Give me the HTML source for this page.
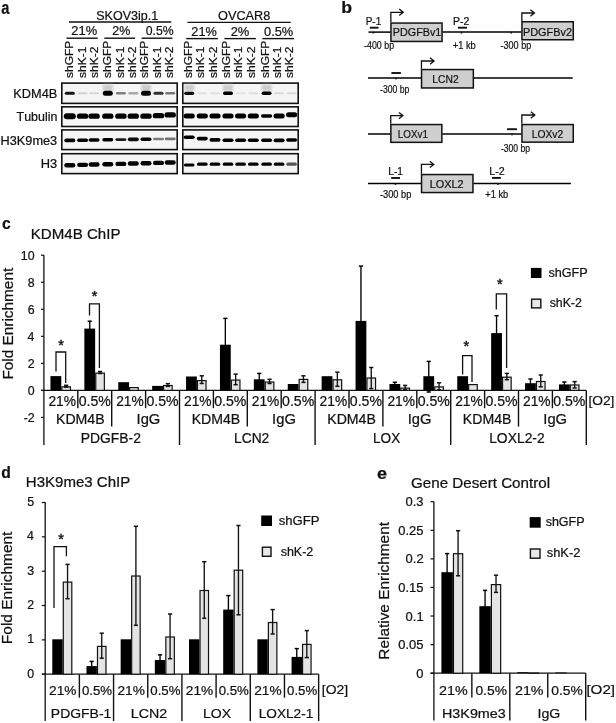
<!DOCTYPE html>
<html><head><meta charset="utf-8"><title>Figure</title>
<style>
html,body{margin:0;padding:0;background:#fff;}
svg{display:block;}
text{font-family:"Liberation Sans",Arial,sans-serif;font-kerning:none;stroke:#111;stroke-width:0.22px;}
</style></head><body>
<svg width="616" height="723" viewBox="0 0 616 723">
<defs>
<filter id="bl" x="-20%" y="-50%" width="140%" height="200%"><feGaussianBlur stdDeviation="0.7"/></filter>
<filter id="bl2" x="-20%" y="-50%" width="140%" height="200%"><feGaussianBlur stdDeviation="1.2"/></filter>
</defs>
<rect width="616" height="723" fill="#fff"/>
<text x="1.17" y="13.50" font-size="17.5" textLength="8.14" lengthAdjust="spacingAndGlyphs" fill="#111" font-weight="bold">a</text>
<text x="96.23" y="19.50" font-size="12.5" textLength="61.98" lengthAdjust="spacingAndGlyphs" fill="#111">SKOV3ip.1</text>
<text x="218.10" y="19.50" font-size="12.5" textLength="52.15" lengthAdjust="spacingAndGlyphs" fill="#111">OVCAR8</text>
<line x1="69.00" y1="22.00" x2="171.20" y2="22.00" stroke="#111" stroke-width="1.4"/>
<line x1="187.40" y1="22.40" x2="290.70" y2="22.40" stroke="#111" stroke-width="1.4"/>
<text x="71.35" y="35.30" font-size="13" textLength="25.81" lengthAdjust="spacingAndGlyphs" fill="#111">21%</text>
<text x="112.37" y="35.30" font-size="13" textLength="18.07" lengthAdjust="spacingAndGlyphs" fill="#111">2%</text>
<text x="145.82" y="35.30" font-size="13" textLength="27.91" lengthAdjust="spacingAndGlyphs" fill="#111">0.5%</text>
<text x="191.36" y="35.70" font-size="13" textLength="25.39" lengthAdjust="spacingAndGlyphs" fill="#111">21%</text>
<text x="230.65" y="35.70" font-size="13" textLength="18.71" lengthAdjust="spacingAndGlyphs" fill="#111">2%</text>
<text x="264.00" y="35.70" font-size="13" textLength="29.26" lengthAdjust="spacingAndGlyphs" fill="#111">0.5%</text>
<line x1="66.50" y1="38.20" x2="97.70" y2="38.20" stroke="#111" stroke-width="1.4"/>
<line x1="104.30" y1="38.20" x2="135.10" y2="38.20" stroke="#111" stroke-width="1.4"/>
<line x1="141.60" y1="38.20" x2="172.50" y2="38.20" stroke="#111" stroke-width="1.4"/>
<line x1="186.20" y1="38.60" x2="218.00" y2="38.60" stroke="#111" stroke-width="1.4"/>
<line x1="224.40" y1="38.60" x2="256.00" y2="38.60" stroke="#111" stroke-width="1.4"/>
<line x1="262.30" y1="38.60" x2="294.00" y2="38.60" stroke="#111" stroke-width="1.4"/>
<text transform="translate(73.25,77.70) rotate(-90)" x="-0.33" y="0" font-size="11" textLength="37.37" lengthAdjust="spacingAndGlyphs" fill="#111">shGFP</text>
<text transform="translate(85.55,77.70) rotate(-90)" x="-0.33" y="0" font-size="11" textLength="31.37" lengthAdjust="spacingAndGlyphs" fill="#111">shK-1</text>
<text transform="translate(97.55,77.70) rotate(-90)" x="-0.33" y="0" font-size="11" textLength="31.37" lengthAdjust="spacingAndGlyphs" fill="#111">shK-2</text>
<text transform="translate(110.55,77.70) rotate(-90)" x="-0.33" y="0" font-size="11" textLength="37.37" lengthAdjust="spacingAndGlyphs" fill="#111">shGFP</text>
<text transform="translate(123.95,77.70) rotate(-90)" x="-0.33" y="0" font-size="11" textLength="31.37" lengthAdjust="spacingAndGlyphs" fill="#111">shK-1</text>
<text transform="translate(135.55,77.70) rotate(-90)" x="-0.33" y="0" font-size="11" textLength="31.37" lengthAdjust="spacingAndGlyphs" fill="#111">shK-2</text>
<text transform="translate(148.45,77.70) rotate(-90)" x="-0.33" y="0" font-size="11" textLength="37.37" lengthAdjust="spacingAndGlyphs" fill="#111">shGFP</text>
<text transform="translate(161.05,77.70) rotate(-90)" x="-0.33" y="0" font-size="11" textLength="31.37" lengthAdjust="spacingAndGlyphs" fill="#111">shK-1</text>
<text transform="translate(173.25,77.70) rotate(-90)" x="-0.33" y="0" font-size="11" textLength="31.37" lengthAdjust="spacingAndGlyphs" fill="#111">shK-2</text>
<text transform="translate(192.25,77.70) rotate(-90)" x="-0.33" y="0" font-size="11" textLength="37.37" lengthAdjust="spacingAndGlyphs" fill="#111">shGFP</text>
<text transform="translate(204.25,77.70) rotate(-90)" x="-0.33" y="0" font-size="11" textLength="31.37" lengthAdjust="spacingAndGlyphs" fill="#111">shK-1</text>
<text transform="translate(217.25,77.70) rotate(-90)" x="-0.33" y="0" font-size="11" textLength="31.37" lengthAdjust="spacingAndGlyphs" fill="#111">shK-2</text>
<text transform="translate(230.25,77.70) rotate(-90)" x="-0.33" y="0" font-size="11" textLength="37.37" lengthAdjust="spacingAndGlyphs" fill="#111">shGFP</text>
<text transform="translate(242.25,77.70) rotate(-90)" x="-0.33" y="0" font-size="11" textLength="31.37" lengthAdjust="spacingAndGlyphs" fill="#111">shK-1</text>
<text transform="translate(255.25,77.70) rotate(-90)" x="-0.33" y="0" font-size="11" textLength="31.37" lengthAdjust="spacingAndGlyphs" fill="#111">shK-2</text>
<text transform="translate(269.25,77.70) rotate(-90)" x="-0.33" y="0" font-size="11" textLength="37.37" lengthAdjust="spacingAndGlyphs" fill="#111">shGFP</text>
<text transform="translate(281.25,77.70) rotate(-90)" x="-0.33" y="0" font-size="11" textLength="31.37" lengthAdjust="spacingAndGlyphs" fill="#111">shK-1</text>
<text transform="translate(293.25,77.70) rotate(-90)" x="-0.33" y="0" font-size="11" textLength="31.37" lengthAdjust="spacingAndGlyphs" fill="#111">shK-2</text>
<text x="13.25" y="98.20" font-size="12" textLength="44.02" lengthAdjust="spacingAndGlyphs" fill="#111">KDM4B</text>
<text x="16.62" y="120.70" font-size="12" textLength="40.79" lengthAdjust="spacingAndGlyphs" fill="#111">Tubulin</text>
<text x="0.56" y="144.50" font-size="12" textLength="56.60" lengthAdjust="spacingAndGlyphs" fill="#111">H3K9me3</text>
<text x="40.85" y="167.90" font-size="12" textLength="16.42" lengthAdjust="spacingAndGlyphs" fill="#111">H3</text>
<rect x="61.80" y="83.10" width="115.40" height="20.30" fill="#f5f5f5" stroke="#111" stroke-width="1.6"/>
<rect x="182.80" y="83.10" width="115.40" height="20.30" fill="#f5f5f5" stroke="#111" stroke-width="1.6"/>
<rect x="61.80" y="106.80" width="115.40" height="19.70" fill="#f5f5f5" stroke="#111" stroke-width="1.6"/>
<rect x="182.80" y="106.80" width="115.40" height="19.70" fill="#f5f5f5" stroke="#111" stroke-width="1.6"/>
<rect x="61.80" y="129.90" width="115.40" height="19.70" fill="#f5f5f5" stroke="#111" stroke-width="1.6"/>
<rect x="182.80" y="129.90" width="115.40" height="19.70" fill="#f5f5f5" stroke="#111" stroke-width="1.6"/>
<rect x="61.80" y="153.70" width="115.40" height="19.90" fill="#f5f5f5" stroke="#111" stroke-width="1.6"/>
<rect x="182.80" y="153.70" width="115.40" height="19.90" fill="#f5f5f5" stroke="#111" stroke-width="1.6"/>
<g filter="url(#bl2)">
<rect x="102.80" y="84.55" width="10" height="6.5" fill="#cdcdcd"/>
<rect x="141.00" y="84.55" width="10" height="6.5" fill="#cdcdcd"/>
<rect x="184.20" y="84.55" width="10" height="6.5" fill="#cdcdcd"/>
<rect x="223.00" y="84.55" width="10" height="6.5" fill="#cdcdcd"/>
<rect x="261.60" y="84.55" width="10" height="6.5" fill="#cdcdcd"/>
</g><g filter="url(#bl)">
<rect x="64.80" y="91.80" width="10.00" height="3.00" rx="1.50" fill="#151515"/>
<rect x="77.60" y="92.30" width="10.00" height="2.00" rx="1.00" fill="#d4d4d4"/>
<rect x="89.10" y="92.30" width="10.00" height="2.00" rx="1.00" fill="#d8d8d8"/>
<rect x="102.80" y="90.80" width="10.00" height="5.00" rx="2.50" fill="#000"/>
<rect x="115.90" y="92.00" width="10.00" height="2.60" rx="1.30" fill="#808080"/>
<rect x="128.30" y="92.10" width="10.00" height="2.40" rx="1.20" fill="#a8a8a8"/>
<rect x="141.00" y="90.80" width="10.00" height="5.00" rx="2.50" fill="#000"/>
<rect x="153.50" y="91.80" width="10.00" height="3.00" rx="1.50" fill="#303030"/>
<rect x="165.20" y="92.00" width="10.00" height="2.60" rx="1.30" fill="#777"/>
<rect x="184.20" y="91.70" width="10.00" height="3.20" rx="1.60" fill="#111"/>
<rect x="197.30" y="92.30" width="10.00" height="2.00" rx="1.00" fill="#e2e2e2"/>
<rect x="210.00" y="92.30" width="10.00" height="2.00" rx="1.00" fill="#e0e0e0"/>
<rect x="223.00" y="91.60" width="10.00" height="3.40" rx="1.70" fill="#000"/>
<rect x="235.60" y="92.30" width="10.00" height="2.00" rx="1.00" fill="#e4e4e4"/>
<rect x="248.30" y="92.30" width="10.00" height="2.00" rx="1.00" fill="#e0e0e0"/>
<rect x="261.60" y="91.50" width="10.00" height="3.60" rx="1.80" fill="#000"/>
<rect x="274.10" y="92.30" width="10.00" height="2.00" rx="1.00" fill="#d8d8d8"/>
<rect x="286.60" y="92.30" width="10.00" height="2.00" rx="1.00" fill="#dadada"/>
<rect x="63.80" y="113.20" width="12.00" height="6.00" rx="3.00" fill="#000"/>
<rect x="76.90" y="113.60" width="11.40" height="5.20" rx="2.60" fill="#000"/>
<rect x="88.40" y="113.60" width="11.40" height="5.20" rx="2.60" fill="#000"/>
<rect x="102.10" y="113.60" width="11.40" height="5.20" rx="2.60" fill="#000"/>
<rect x="115.20" y="113.60" width="11.40" height="5.20" rx="2.60" fill="#000"/>
<rect x="127.60" y="113.60" width="11.40" height="5.20" rx="2.60" fill="#000"/>
<rect x="140.30" y="113.60" width="11.40" height="5.20" rx="2.60" fill="#000"/>
<rect x="152.80" y="113.10" width="11.40" height="5.20" rx="2.60" fill="#000"/>
<rect x="164.50" y="112.30" width="11.40" height="5.20" rx="2.60" fill="#000"/>
<rect x="183.60" y="113.50" width="11.20" height="5.00" rx="2.50" fill="#000"/>
<rect x="196.70" y="113.50" width="11.20" height="5.00" rx="2.50" fill="#000"/>
<rect x="209.40" y="113.50" width="11.20" height="5.00" rx="2.50" fill="#000"/>
<rect x="222.40" y="113.50" width="11.20" height="5.00" rx="2.50" fill="#000"/>
<rect x="235.00" y="113.50" width="11.20" height="5.00" rx="2.50" fill="#000"/>
<rect x="247.70" y="113.50" width="11.20" height="5.00" rx="2.50" fill="#000"/>
<rect x="261.00" y="114.20" width="11.20" height="3.60" rx="1.80" fill="#000"/>
<rect x="273.50" y="113.50" width="11.20" height="5.00" rx="2.50" fill="#000"/>
<rect x="286.00" y="112.30" width="11.20" height="5.00" rx="2.50" fill="#000"/>
<rect x="64.30" y="138.60" width="11.00" height="3.60" rx="1.80" fill="#000"/>
<rect x="77.10" y="138.40" width="11.00" height="3.60" rx="1.80" fill="#000"/>
<rect x="88.60" y="138.20" width="11.00" height="3.60" rx="1.80" fill="#000"/>
<rect x="102.30" y="138.00" width="11.00" height="3.60" rx="1.80" fill="#050505"/>
<rect x="115.40" y="138.15" width="11.00" height="2.90" rx="1.45" fill="#1c1c1c"/>
<rect x="127.80" y="137.60" width="11.00" height="3.60" rx="1.80" fill="#0a0a0a"/>
<rect x="140.50" y="137.40" width="11.00" height="3.60" rx="1.80" fill="#000"/>
<rect x="153.00" y="137.65" width="11.00" height="2.70" rx="1.35" fill="#7a7a7a"/>
<rect x="164.70" y="137.45" width="11.00" height="2.70" rx="1.35" fill="#707070"/>
<rect x="183.70" y="135.40" width="11.00" height="3.60" rx="1.80" fill="#000"/>
<rect x="196.80" y="136.80" width="11.00" height="3.60" rx="1.80" fill="#000"/>
<rect x="209.50" y="138.10" width="11.00" height="3.60" rx="1.80" fill="#000"/>
<rect x="222.50" y="138.40" width="11.00" height="3.60" rx="1.80" fill="#000"/>
<rect x="235.10" y="138.40" width="11.00" height="3.60" rx="1.80" fill="#000"/>
<rect x="247.80" y="138.50" width="11.00" height="3.60" rx="1.80" fill="#000"/>
<rect x="261.10" y="138.50" width="11.00" height="3.60" rx="1.80" fill="#000"/>
<rect x="273.60" y="138.60" width="11.00" height="3.60" rx="1.80" fill="#000"/>
<rect x="286.10" y="138.20" width="11.00" height="3.60" rx="1.80" fill="#000"/>
<rect x="64.30" y="163.00" width="11.00" height="4.40" rx="2.20" fill="#000"/>
<rect x="77.10" y="162.67" width="11.00" height="4.40" rx="2.20" fill="#000"/>
<rect x="88.60" y="162.34" width="11.00" height="4.40" rx="2.20" fill="#000"/>
<rect x="102.30" y="162.01" width="11.00" height="4.40" rx="2.20" fill="#000"/>
<rect x="115.40" y="161.68" width="11.00" height="4.40" rx="2.20" fill="#000"/>
<rect x="127.80" y="161.35" width="11.00" height="4.40" rx="2.20" fill="#000"/>
<rect x="140.50" y="161.02" width="11.00" height="4.40" rx="2.20" fill="#000"/>
<rect x="153.00" y="160.69" width="11.00" height="4.40" rx="2.20" fill="#000"/>
<rect x="164.70" y="160.36" width="11.00" height="4.40" rx="2.20" fill="#000"/>
<rect x="183.90" y="163.40" width="10.60" height="3.20" rx="1.60" fill="#000"/>
<rect x="197.00" y="162.60" width="10.60" height="3.20" rx="1.60" fill="#000"/>
<rect x="209.70" y="162.60" width="10.60" height="3.20" rx="1.60" fill="#000"/>
<rect x="222.70" y="162.60" width="10.60" height="3.20" rx="1.60" fill="#000"/>
<rect x="235.30" y="162.60" width="10.60" height="3.20" rx="1.60" fill="#000"/>
<rect x="248.00" y="162.60" width="10.60" height="3.20" rx="1.60" fill="#000"/>
<rect x="261.30" y="162.60" width="10.60" height="3.20" rx="1.60" fill="#000"/>
<rect x="273.80" y="162.60" width="10.60" height="3.20" rx="1.60" fill="#000"/>
<rect x="286.30" y="162.60" width="10.60" height="3.20" rx="1.60" fill="#555"/>
</g>
<text x="341.24" y="13.00" font-size="16" textLength="10.79" lengthAdjust="spacingAndGlyphs" fill="#111" font-weight="bold">b</text>
<line x1="368.50" y1="32.10" x2="390.50" y2="32.10" stroke="#000" stroke-width="1.5"/>
<line x1="442.50" y1="32.10" x2="521.50" y2="32.10" stroke="#000" stroke-width="1.5"/>
<rect x="390.95" y="23.05" width="51.10" height="18.40" fill="#cfcfcf" stroke="#111" stroke-width="1.5"/>
<text x="392.82" y="35.70" font-size="11.6" textLength="48.51" lengthAdjust="spacingAndGlyphs" fill="#111">PDGFBv1</text>
<path d="M390.85,22.30 V12.30 H403.20 M399.20,9.10 L403.20,12.30 L399.20,15.50" fill="none" stroke="#111" stroke-width="1.3"/>
<rect x="521.95" y="21.75" width="51.30" height="18.00" fill="#cfcfcf" stroke="#111" stroke-width="1.5"/>
<text x="523.01" y="35.70" font-size="11.6" textLength="48.94" lengthAdjust="spacingAndGlyphs" fill="#111">PDGFBv2</text>
<path d="M521.85,21.00 V13.00 H534.40 M530.40,9.80 L534.40,13.00 L530.40,16.20" fill="none" stroke="#111" stroke-width="1.3"/>
<line x1="369.80" y1="27.70" x2="378.50" y2="27.70" stroke="#111" stroke-width="1.9"/>
<line x1="457.90" y1="27.70" x2="467.00" y2="27.70" stroke="#111" stroke-width="1.9"/>
<circle cx="373.30" cy="32.70" r="0.9" fill="#111"/>
<circle cx="461.40" cy="32.70" r="0.9" fill="#111"/>
<circle cx="511.20" cy="32.70" r="0.9" fill="#111"/>
<text x="365.68" y="25.00" font-size="10.5" textLength="15.61" lengthAdjust="spacingAndGlyphs" fill="#111">P-1</text>
<text x="453.04" y="25.00" font-size="10.5" textLength="16.39" lengthAdjust="spacingAndGlyphs" fill="#111">P-2</text>
<text x="364.11" y="48.70" font-size="10.5" textLength="29.96" lengthAdjust="spacingAndGlyphs" fill="#111">-400 bp</text>
<text x="452.85" y="48.70" font-size="10.5" textLength="22.94" lengthAdjust="spacingAndGlyphs" fill="#111">+1 kb</text>
<text x="500.50" y="48.70" font-size="10.5" textLength="30.78" lengthAdjust="spacingAndGlyphs" fill="#111">-300 bp</text>
<line x1="368.00" y1="78.00" x2="421.00" y2="78.00" stroke="#000" stroke-width="1.5"/>
<line x1="473.50" y1="78.00" x2="572.70" y2="78.00" stroke="#000" stroke-width="1.5"/>
<rect x="421.55" y="69.55" width="51.80" height="18.40" fill="#cfcfcf" stroke="#111" stroke-width="1.5"/>
<text x="432.35" y="82.50" font-size="11.6" textLength="26.36" lengthAdjust="spacingAndGlyphs" fill="#111">LCN2</text>
<path d="M421.45,68.80 V61.00 H434.00 M430.00,57.80 L434.00,61.00 L430.00,64.20" fill="none" stroke="#111" stroke-width="1.3"/>
<line x1="391.40" y1="73.00" x2="400.90" y2="73.00" stroke="#111" stroke-width="1.9"/>
<circle cx="396.00" cy="78.60" r="0.9" fill="#111"/>
<text x="380.01" y="93.10" font-size="10.5" textLength="29.45" lengthAdjust="spacingAndGlyphs" fill="#111">-300 bp</text>
<line x1="368.00" y1="134.00" x2="390.50" y2="134.00" stroke="#000" stroke-width="1.5"/>
<line x1="442.30" y1="134.00" x2="521.50" y2="134.00" stroke="#000" stroke-width="1.5"/>
<rect x="390.85" y="124.55" width="51.00" height="17.80" fill="#cfcfcf" stroke="#111" stroke-width="1.5"/>
<text x="397.79" y="137.70" font-size="11.6" textLength="30.19" lengthAdjust="spacingAndGlyphs" fill="#111">LOXv1</text>
<path d="M390.75,123.80 V115.60 H402.90 M398.90,112.40 L402.90,115.60 L398.90,118.80" fill="none" stroke="#111" stroke-width="1.3"/>
<rect x="521.95" y="124.55" width="51.30" height="17.60" fill="#cfcfcf" stroke="#111" stroke-width="1.5"/>
<text x="531.65" y="137.70" font-size="11.6" textLength="31.57" lengthAdjust="spacingAndGlyphs" fill="#111">LOXv2</text>
<path d="M521.85,123.80 V115.00 H534.80 M530.80,111.80 L534.80,115.00 L530.80,118.20" fill="none" stroke="#111" stroke-width="1.3"/>
<line x1="507.10" y1="129.20" x2="516.90" y2="129.20" stroke="#111" stroke-width="1.9"/>
<circle cx="512.00" cy="134.60" r="0.9" fill="#111"/>
<text x="500.92" y="152.00" font-size="10.5" textLength="29.14" lengthAdjust="spacingAndGlyphs" fill="#111">-300 bp</text>
<line x1="368.00" y1="183.40" x2="421.00" y2="183.40" stroke="#000" stroke-width="1.5"/>
<line x1="473.30" y1="183.40" x2="570.90" y2="183.40" stroke="#000" stroke-width="1.5"/>
<rect x="421.55" y="174.55" width="51.40" height="18.00" fill="#cfcfcf" stroke="#111" stroke-width="1.5"/>
<text x="429.71" y="187.50" font-size="11.6" textLength="33.84" lengthAdjust="spacingAndGlyphs" fill="#111">LOXL2</text>
<path d="M421.45,173.80 V164.40 H433.80 M429.80,161.20 L433.80,164.40 L429.80,167.60" fill="none" stroke="#111" stroke-width="1.3"/>
<line x1="391.20" y1="178.00" x2="400.00" y2="178.00" stroke="#111" stroke-width="1.9"/>
<line x1="491.90" y1="177.90" x2="500.80" y2="177.90" stroke="#111" stroke-width="1.9"/>
<circle cx="395.50" cy="184.00" r="0.9" fill="#111"/>
<circle cx="497.90" cy="184.00" r="0.9" fill="#111"/>
<text x="388.26" y="175.00" font-size="10.5" textLength="14.84" lengthAdjust="spacingAndGlyphs" fill="#111">L-1</text>
<text x="489.23" y="175.00" font-size="10.5" textLength="15.41" lengthAdjust="spacingAndGlyphs" fill="#111">L-2</text>
<text x="379.99" y="197.70" font-size="10.5" textLength="31.40" lengthAdjust="spacingAndGlyphs" fill="#111">-300 bp</text>
<text x="485.25" y="197.70" font-size="10.5" textLength="22.94" lengthAdjust="spacingAndGlyphs" fill="#111">+1 kb</text>
<text x="2.09" y="228.90" font-size="16.5" textLength="8.67" lengthAdjust="spacingAndGlyphs" fill="#111" font-weight="bold">c</text>
<text x="30.76" y="238.90" font-size="14.7" textLength="89.73" lengthAdjust="spacingAndGlyphs" fill="#111">KDM4B ChIP</text>
<line x1="41.00" y1="255.20" x2="43.90" y2="255.20" stroke="#111" stroke-width="1.2"/>
<text x="20.83" y="259.50" font-size="12" textLength="13.75" lengthAdjust="spacingAndGlyphs" fill="#111">10</text>
<line x1="41.00" y1="282.24" x2="43.90" y2="282.24" stroke="#111" stroke-width="1.2"/>
<text x="27.76" y="286.54" font-size="12" textLength="6.87" lengthAdjust="spacingAndGlyphs" fill="#111">8</text>
<line x1="41.00" y1="309.28" x2="43.90" y2="309.28" stroke="#111" stroke-width="1.2"/>
<text x="27.77" y="313.58" font-size="12" textLength="6.87" lengthAdjust="spacingAndGlyphs" fill="#111">6</text>
<line x1="41.00" y1="336.32" x2="43.90" y2="336.32" stroke="#111" stroke-width="1.2"/>
<text x="27.59" y="340.62" font-size="12" textLength="6.87" lengthAdjust="spacingAndGlyphs" fill="#111">4</text>
<line x1="41.00" y1="363.36" x2="43.90" y2="363.36" stroke="#111" stroke-width="1.2"/>
<text x="27.85" y="367.66" font-size="12" textLength="6.87" lengthAdjust="spacingAndGlyphs" fill="#111">2</text>
<line x1="41.00" y1="390.40" x2="43.90" y2="390.40" stroke="#111" stroke-width="1.2"/>
<text x="27.71" y="394.70" font-size="12" textLength="6.87" lengthAdjust="spacingAndGlyphs" fill="#111">0</text>
<line x1="41.00" y1="417.44" x2="43.90" y2="417.44" stroke="#111" stroke-width="1.2"/>
<text x="23.73" y="421.74" font-size="12" textLength="10.99" lengthAdjust="spacingAndGlyphs" fill="#111">-2</text>
<line x1="43.90" y1="255.00" x2="43.90" y2="445.00" stroke="#111" stroke-width="1.3"/>
<line x1="41.00" y1="390.40" x2="586.30" y2="390.40" stroke="#111" stroke-width="1.3"/>
<text transform="translate(12.90,378.30) rotate(-90)" x="-1.26" y="0" font-size="15" textLength="111.77" lengthAdjust="spacingAndGlyphs" fill="#111">Fold Enrichment</text>
<rect x="50.45" y="376.10" width="10.80" height="14.30" fill="#000"/>
<rect x="61.85" y="386.85" width="8.60" height="3.55" fill="#e4e4e4" stroke="#111" stroke-width="1.2"/>
<line x1="66.15" y1="385.30" x2="66.15" y2="387.20" stroke="#111" stroke-width="1.35"/>
<line x1="64.05" y1="385.30" x2="68.25" y2="385.30" stroke="#111" stroke-width="1.4850000000000003"/>
<line x1="64.05" y1="387.20" x2="68.25" y2="387.20" stroke="#111" stroke-width="1.4850000000000003"/>
<rect x="84.35" y="328.60" width="10.80" height="61.80" fill="#000"/>
<rect x="95.75" y="373.10" width="8.60" height="17.30" fill="#e4e4e4" stroke="#111" stroke-width="1.2"/>
<line x1="89.75" y1="321.20" x2="89.75" y2="336.00" stroke="#000" stroke-width="1.35"/>
<line x1="87.65" y1="321.20" x2="91.85" y2="321.20" stroke="#000" stroke-width="1.4850000000000003"/>
<line x1="87.65" y1="336.00" x2="91.85" y2="336.00" stroke="#000" stroke-width="1.4850000000000003"/>
<line x1="100.05" y1="371.50" x2="100.05" y2="373.50" stroke="#111" stroke-width="1.35"/>
<line x1="97.95" y1="371.50" x2="102.15" y2="371.50" stroke="#111" stroke-width="1.4850000000000003"/>
<line x1="97.95" y1="373.50" x2="102.15" y2="373.50" stroke="#111" stroke-width="1.4850000000000003"/>
<rect x="118.25" y="382.20" width="10.80" height="8.20" fill="#000"/>
<rect x="129.65" y="387.60" width="8.60" height="2.80" fill="#e4e4e4" stroke="#111" stroke-width="1.2"/>
<rect x="152.15" y="385.90" width="10.80" height="4.50" fill="#000"/>
<rect x="163.55" y="385.50" width="8.60" height="4.90" fill="#e4e4e4" stroke="#111" stroke-width="1.2"/>
<line x1="167.85" y1="383.60" x2="167.85" y2="386.40" stroke="#111" stroke-width="1.35"/>
<line x1="165.75" y1="383.60" x2="169.95" y2="383.60" stroke="#111" stroke-width="1.4850000000000003"/>
<line x1="165.75" y1="386.40" x2="169.95" y2="386.40" stroke="#111" stroke-width="1.4850000000000003"/>
<rect x="186.05" y="376.50" width="10.80" height="13.90" fill="#000"/>
<rect x="197.45" y="380.60" width="8.60" height="9.80" fill="#e4e4e4" stroke="#111" stroke-width="1.2"/>
<line x1="201.75" y1="375.80" x2="201.75" y2="383.50" stroke="#111" stroke-width="1.35"/>
<line x1="199.65" y1="375.80" x2="203.85" y2="375.80" stroke="#111" stroke-width="1.4850000000000003"/>
<line x1="199.65" y1="383.50" x2="203.85" y2="383.50" stroke="#111" stroke-width="1.4850000000000003"/>
<rect x="219.95" y="344.70" width="10.80" height="45.70" fill="#000"/>
<rect x="231.35" y="380.10" width="8.60" height="10.30" fill="#e4e4e4" stroke="#111" stroke-width="1.2"/>
<line x1="225.35" y1="318.40" x2="225.35" y2="350.00" stroke="#000" stroke-width="1.35"/>
<line x1="223.25" y1="318.40" x2="227.45" y2="318.40" stroke="#000" stroke-width="1.4850000000000003"/>
<line x1="223.25" y1="350.00" x2="227.45" y2="350.00" stroke="#000" stroke-width="1.4850000000000003"/>
<line x1="235.65" y1="374.10" x2="235.65" y2="384.70" stroke="#111" stroke-width="1.35"/>
<line x1="233.55" y1="374.10" x2="237.75" y2="374.10" stroke="#111" stroke-width="1.4850000000000003"/>
<line x1="233.55" y1="384.70" x2="237.75" y2="384.70" stroke="#111" stroke-width="1.4850000000000003"/>
<rect x="253.85" y="379.30" width="10.80" height="11.10" fill="#000"/>
<rect x="265.25" y="382.00" width="8.60" height="8.40" fill="#e4e4e4" stroke="#111" stroke-width="1.2"/>
<line x1="259.25" y1="373.40" x2="259.25" y2="385.00" stroke="#000" stroke-width="1.35"/>
<line x1="257.15" y1="373.40" x2="261.35" y2="373.40" stroke="#000" stroke-width="1.4850000000000003"/>
<line x1="257.15" y1="385.00" x2="261.35" y2="385.00" stroke="#000" stroke-width="1.4850000000000003"/>
<line x1="269.55" y1="379.30" x2="269.55" y2="383.50" stroke="#111" stroke-width="1.35"/>
<line x1="267.45" y1="379.30" x2="271.65" y2="379.30" stroke="#111" stroke-width="1.4850000000000003"/>
<line x1="267.45" y1="383.50" x2="271.65" y2="383.50" stroke="#111" stroke-width="1.4850000000000003"/>
<rect x="287.75" y="384.00" width="10.80" height="6.40" fill="#000"/>
<rect x="299.15" y="379.40" width="8.60" height="11.00" fill="#e4e4e4" stroke="#111" stroke-width="1.2"/>
<line x1="303.45" y1="375.80" x2="303.45" y2="382.40" stroke="#111" stroke-width="1.35"/>
<line x1="301.35" y1="375.80" x2="305.55" y2="375.80" stroke="#111" stroke-width="1.4850000000000003"/>
<line x1="301.35" y1="382.40" x2="305.55" y2="382.40" stroke="#111" stroke-width="1.4850000000000003"/>
<rect x="321.65" y="376.20" width="10.80" height="14.20" fill="#000"/>
<rect x="333.05" y="379.80" width="8.60" height="10.60" fill="#e4e4e4" stroke="#111" stroke-width="1.2"/>
<line x1="337.35" y1="372.20" x2="337.35" y2="386.30" stroke="#111" stroke-width="1.35"/>
<line x1="335.25" y1="372.20" x2="339.45" y2="372.20" stroke="#111" stroke-width="1.4850000000000003"/>
<line x1="335.25" y1="386.30" x2="339.45" y2="386.30" stroke="#111" stroke-width="1.4850000000000003"/>
<rect x="355.55" y="320.90" width="10.80" height="69.50" fill="#000"/>
<rect x="366.95" y="378.00" width="8.60" height="12.40" fill="#e4e4e4" stroke="#111" stroke-width="1.2"/>
<line x1="360.95" y1="266.10" x2="360.95" y2="330.00" stroke="#000" stroke-width="1.35"/>
<line x1="358.85" y1="266.10" x2="363.05" y2="266.10" stroke="#000" stroke-width="1.4850000000000003"/>
<line x1="358.85" y1="330.00" x2="363.05" y2="330.00" stroke="#000" stroke-width="1.4850000000000003"/>
<line x1="371.25" y1="367.50" x2="371.25" y2="388.60" stroke="#111" stroke-width="1.35"/>
<line x1="369.15" y1="367.50" x2="373.35" y2="367.50" stroke="#111" stroke-width="1.4850000000000003"/>
<line x1="369.15" y1="388.60" x2="373.35" y2="388.60" stroke="#111" stroke-width="1.4850000000000003"/>
<rect x="389.45" y="384.00" width="10.80" height="6.40" fill="#000"/>
<rect x="400.85" y="388.10" width="8.60" height="2.30" fill="#e4e4e4" stroke="#111" stroke-width="1.2"/>
<line x1="394.85" y1="382.30" x2="394.85" y2="386.00" stroke="#000" stroke-width="1.35"/>
<line x1="392.75" y1="382.30" x2="396.95" y2="382.30" stroke="#000" stroke-width="1.4850000000000003"/>
<line x1="392.75" y1="386.00" x2="396.95" y2="386.00" stroke="#000" stroke-width="1.4850000000000003"/>
<line x1="405.15" y1="385.40" x2="405.15" y2="389.80" stroke="#111" stroke-width="1.35"/>
<line x1="403.05" y1="385.40" x2="407.25" y2="385.40" stroke="#111" stroke-width="1.4850000000000003"/>
<line x1="403.05" y1="389.80" x2="407.25" y2="389.80" stroke="#111" stroke-width="1.4850000000000003"/>
<rect x="423.35" y="376.20" width="10.80" height="14.20" fill="#000"/>
<rect x="434.75" y="386.90" width="8.60" height="3.50" fill="#e4e4e4" stroke="#111" stroke-width="1.2"/>
<line x1="428.75" y1="361.40" x2="428.75" y2="392.00" stroke="#000" stroke-width="1.35"/>
<line x1="426.65" y1="361.40" x2="430.85" y2="361.40" stroke="#000" stroke-width="1.4850000000000003"/>
<line x1="426.65" y1="392.00" x2="430.85" y2="392.00" stroke="#000" stroke-width="1.4850000000000003"/>
<line x1="439.05" y1="382.80" x2="439.05" y2="389.80" stroke="#111" stroke-width="1.35"/>
<line x1="436.95" y1="382.80" x2="441.15" y2="382.80" stroke="#111" stroke-width="1.4850000000000003"/>
<line x1="436.95" y1="389.80" x2="441.15" y2="389.80" stroke="#111" stroke-width="1.4850000000000003"/>
<rect x="457.25" y="376.20" width="10.80" height="14.20" fill="#000"/>
<rect x="468.65" y="384.60" width="8.60" height="5.80" fill="#e4e4e4" stroke="#111" stroke-width="1.2"/>
<rect x="491.15" y="333.10" width="10.80" height="57.30" fill="#000"/>
<rect x="502.55" y="377.20" width="8.60" height="13.20" fill="#e4e4e4" stroke="#111" stroke-width="1.2"/>
<line x1="496.55" y1="315.70" x2="496.55" y2="340.00" stroke="#000" stroke-width="1.35"/>
<line x1="494.45" y1="315.70" x2="498.65" y2="315.70" stroke="#000" stroke-width="1.4850000000000003"/>
<line x1="494.45" y1="340.00" x2="498.65" y2="340.00" stroke="#000" stroke-width="1.4850000000000003"/>
<line x1="506.85" y1="373.40" x2="506.85" y2="379.70" stroke="#111" stroke-width="1.35"/>
<line x1="504.75" y1="373.40" x2="508.95" y2="373.40" stroke="#111" stroke-width="1.4850000000000003"/>
<line x1="504.75" y1="379.70" x2="508.95" y2="379.70" stroke="#111" stroke-width="1.4850000000000003"/>
<rect x="525.05" y="383.20" width="10.80" height="7.20" fill="#000"/>
<rect x="536.45" y="381.50" width="8.60" height="8.90" fill="#e4e4e4" stroke="#111" stroke-width="1.2"/>
<line x1="530.45" y1="379.00" x2="530.45" y2="387.00" stroke="#000" stroke-width="1.35"/>
<line x1="528.35" y1="379.00" x2="532.55" y2="379.00" stroke="#000" stroke-width="1.4850000000000003"/>
<line x1="528.35" y1="387.00" x2="532.55" y2="387.00" stroke="#000" stroke-width="1.4850000000000003"/>
<line x1="540.75" y1="375.00" x2="540.75" y2="386.80" stroke="#111" stroke-width="1.35"/>
<line x1="538.65" y1="375.00" x2="542.85" y2="375.00" stroke="#111" stroke-width="1.4850000000000003"/>
<line x1="538.65" y1="386.80" x2="542.85" y2="386.80" stroke="#111" stroke-width="1.4850000000000003"/>
<rect x="558.95" y="384.40" width="10.80" height="6.00" fill="#000"/>
<rect x="570.35" y="385.00" width="8.60" height="5.40" fill="#e4e4e4" stroke="#111" stroke-width="1.2"/>
<line x1="564.35" y1="382.00" x2="564.35" y2="386.50" stroke="#000" stroke-width="1.35"/>
<line x1="562.25" y1="382.00" x2="566.45" y2="382.00" stroke="#000" stroke-width="1.4850000000000003"/>
<line x1="562.25" y1="386.50" x2="566.45" y2="386.50" stroke="#000" stroke-width="1.4850000000000003"/>
<line x1="574.65" y1="381.60" x2="574.65" y2="388.00" stroke="#111" stroke-width="1.35"/>
<line x1="572.55" y1="381.60" x2="576.75" y2="381.60" stroke="#111" stroke-width="1.4850000000000003"/>
<line x1="572.55" y1="388.00" x2="576.75" y2="388.00" stroke="#111" stroke-width="1.4850000000000003"/>
<path d="M56.00,371.60 V352.00 H65.70 V383.00" fill="none" stroke="#111" stroke-width="1.3"/>
<text x="61.00" y="350.10" font-size="14.5" text-anchor="middle" fill="#111" style="stroke-width:0.45px">*</text>
<path d="M89.50,315.50 V303.80 H99.40 V368.00" fill="none" stroke="#111" stroke-width="1.3"/>
<text x="94.50" y="300.50" font-size="14.5" text-anchor="middle" fill="#111" style="stroke-width:0.45px">*</text>
<path d="M462.60,374.50 V355.70 H472.00 V382.00" fill="none" stroke="#111" stroke-width="1.3"/>
<text x="466.40" y="351.30" font-size="14.5" text-anchor="middle" fill="#111" style="stroke-width:0.45px">*</text>
<path d="M496.30,309.60 V293.80 H506.60 V368.00" fill="none" stroke="#111" stroke-width="1.3"/>
<text x="499.80" y="288.90" font-size="14.5" text-anchor="middle" fill="#111" style="stroke-width:0.45px">*</text>
<line x1="77.80" y1="390.40" x2="77.80" y2="408.20" stroke="#111" stroke-width="1.4"/>
<line x1="111.70" y1="390.40" x2="111.70" y2="426.60" stroke="#111" stroke-width="1.4"/>
<line x1="145.60" y1="390.40" x2="145.60" y2="408.20" stroke="#111" stroke-width="1.4"/>
<line x1="179.50" y1="390.40" x2="179.50" y2="445.00" stroke="#111" stroke-width="1.4"/>
<line x1="213.40" y1="390.40" x2="213.40" y2="408.20" stroke="#111" stroke-width="1.4"/>
<line x1="247.30" y1="390.40" x2="247.30" y2="426.60" stroke="#111" stroke-width="1.4"/>
<line x1="281.20" y1="390.40" x2="281.20" y2="408.20" stroke="#111" stroke-width="1.4"/>
<line x1="315.10" y1="390.40" x2="315.10" y2="445.00" stroke="#111" stroke-width="1.4"/>
<line x1="349.00" y1="390.40" x2="349.00" y2="408.20" stroke="#111" stroke-width="1.4"/>
<line x1="382.90" y1="390.40" x2="382.90" y2="426.60" stroke="#111" stroke-width="1.4"/>
<line x1="416.80" y1="390.40" x2="416.80" y2="408.20" stroke="#111" stroke-width="1.4"/>
<line x1="450.70" y1="390.40" x2="450.70" y2="445.00" stroke="#111" stroke-width="1.4"/>
<line x1="484.60" y1="390.40" x2="484.60" y2="408.20" stroke="#111" stroke-width="1.4"/>
<line x1="518.50" y1="390.40" x2="518.50" y2="426.60" stroke="#111" stroke-width="1.4"/>
<line x1="552.40" y1="390.40" x2="552.40" y2="408.20" stroke="#111" stroke-width="1.4"/>
<line x1="586.30" y1="390.40" x2="586.30" y2="445.00" stroke="#111" stroke-width="1.4"/>
<text x="48.41" y="405.90" font-size="14.2" textLength="27.58" lengthAdjust="spacingAndGlyphs" fill="#111">21%</text>
<text x="78.65" y="405.90" font-size="14.2" textLength="32.15" lengthAdjust="spacingAndGlyphs" fill="#111">0.5%</text>
<text x="116.21" y="405.90" font-size="14.2" textLength="27.58" lengthAdjust="spacingAndGlyphs" fill="#111">21%</text>
<text x="146.45" y="405.90" font-size="14.2" textLength="32.15" lengthAdjust="spacingAndGlyphs" fill="#111">0.5%</text>
<text x="184.01" y="405.90" font-size="14.2" textLength="27.58" lengthAdjust="spacingAndGlyphs" fill="#111">21%</text>
<text x="214.25" y="405.90" font-size="14.2" textLength="32.15" lengthAdjust="spacingAndGlyphs" fill="#111">0.5%</text>
<text x="251.81" y="405.90" font-size="14.2" textLength="27.58" lengthAdjust="spacingAndGlyphs" fill="#111">21%</text>
<text x="282.05" y="405.90" font-size="14.2" textLength="32.15" lengthAdjust="spacingAndGlyphs" fill="#111">0.5%</text>
<text x="319.61" y="405.90" font-size="14.2" textLength="27.58" lengthAdjust="spacingAndGlyphs" fill="#111">21%</text>
<text x="349.85" y="405.90" font-size="14.2" textLength="32.15" lengthAdjust="spacingAndGlyphs" fill="#111">0.5%</text>
<text x="387.41" y="405.90" font-size="14.2" textLength="27.58" lengthAdjust="spacingAndGlyphs" fill="#111">21%</text>
<text x="417.65" y="405.90" font-size="14.2" textLength="32.15" lengthAdjust="spacingAndGlyphs" fill="#111">0.5%</text>
<text x="455.21" y="405.90" font-size="14.2" textLength="27.58" lengthAdjust="spacingAndGlyphs" fill="#111">21%</text>
<text x="485.45" y="405.90" font-size="14.2" textLength="32.15" lengthAdjust="spacingAndGlyphs" fill="#111">0.5%</text>
<text x="523.01" y="405.90" font-size="14.2" textLength="27.58" lengthAdjust="spacingAndGlyphs" fill="#111">21%</text>
<text x="553.25" y="405.90" font-size="14.2" textLength="32.15" lengthAdjust="spacingAndGlyphs" fill="#111">0.5%</text>
<text x="56.04" y="423.60" font-size="14.2" textLength="48.60" lengthAdjust="spacingAndGlyphs" fill="#111">KDM4B</text>
<text x="136.54" y="423.60" font-size="14.2" textLength="23.76" lengthAdjust="spacingAndGlyphs" fill="#111">IgG</text>
<text x="191.64" y="423.60" font-size="14.2" textLength="48.60" lengthAdjust="spacingAndGlyphs" fill="#111">KDM4B</text>
<text x="272.14" y="423.60" font-size="14.2" textLength="23.76" lengthAdjust="spacingAndGlyphs" fill="#111">IgG</text>
<text x="327.24" y="423.60" font-size="14.2" textLength="48.60" lengthAdjust="spacingAndGlyphs" fill="#111">KDM4B</text>
<text x="407.74" y="423.60" font-size="14.2" textLength="23.76" lengthAdjust="spacingAndGlyphs" fill="#111">IgG</text>
<text x="462.84" y="423.60" font-size="14.2" textLength="48.60" lengthAdjust="spacingAndGlyphs" fill="#111">KDM4B</text>
<text x="543.34" y="423.60" font-size="14.2" textLength="23.76" lengthAdjust="spacingAndGlyphs" fill="#111">IgG</text>
<text x="80.66" y="442.50" font-size="14.2" textLength="60.24" lengthAdjust="spacingAndGlyphs" fill="#111">PDGFB-2</text>
<text x="233.97" y="442.50" font-size="14.2" textLength="35.33" lengthAdjust="spacingAndGlyphs" fill="#111">LCN2</text>
<text x="373.09" y="442.50" font-size="14.2" textLength="27.10" lengthAdjust="spacingAndGlyphs" fill="#111">LOX</text>
<text x="489.16" y="442.50" font-size="14.2" textLength="55.54" lengthAdjust="spacingAndGlyphs" fill="#111">LOXL2-2</text>
<text x="588.42" y="404.60" font-size="13.7" textLength="25.96" lengthAdjust="spacingAndGlyphs" fill="#111">[O2]</text>
<rect x="530.90" y="267.90" width="10.60" height="10.10" fill="#000"/>
<rect x="531.60" y="299.20" width="9.20" height="8.70" fill="#e8e8e8" stroke="#111" stroke-width="1.4"/>
<text x="548.45" y="276.60" font-size="12" textLength="39.32" lengthAdjust="spacingAndGlyphs" fill="#111">shGFP</text>
<text x="549.66" y="307.20" font-size="12" textLength="32.16" lengthAdjust="spacingAndGlyphs" fill="#111">shK-2</text>
<text x="1.26" y="478.40" font-size="16.5" textLength="9.58" lengthAdjust="spacingAndGlyphs" fill="#111" font-weight="bold">d</text>
<text x="25.87" y="486.80" font-size="14.7" textLength="104.43" lengthAdjust="spacingAndGlyphs" fill="#111">H3K9me3 ChIP</text>
<line x1="41.90" y1="674.20" x2="45.20" y2="674.20" stroke="#111" stroke-width="1.2"/>
<text x="27.21" y="677.80" font-size="12" textLength="6.87" lengthAdjust="spacingAndGlyphs" fill="#111">0</text>
<line x1="41.90" y1="639.86" x2="45.20" y2="639.86" stroke="#111" stroke-width="1.2"/>
<text x="27.33" y="643.46" font-size="12" textLength="6.87" lengthAdjust="spacingAndGlyphs" fill="#111">1</text>
<line x1="41.90" y1="605.52" x2="45.20" y2="605.52" stroke="#111" stroke-width="1.2"/>
<text x="27.35" y="609.12" font-size="12" textLength="6.87" lengthAdjust="spacingAndGlyphs" fill="#111">2</text>
<line x1="41.90" y1="571.18" x2="45.20" y2="571.18" stroke="#111" stroke-width="1.2"/>
<text x="27.27" y="574.78" font-size="12" textLength="6.87" lengthAdjust="spacingAndGlyphs" fill="#111">3</text>
<line x1="41.90" y1="536.84" x2="45.20" y2="536.84" stroke="#111" stroke-width="1.2"/>
<text x="27.09" y="540.44" font-size="12" textLength="6.87" lengthAdjust="spacingAndGlyphs" fill="#111">4</text>
<line x1="41.90" y1="502.50" x2="45.20" y2="502.50" stroke="#111" stroke-width="1.2"/>
<text x="27.24" y="506.10" font-size="12" textLength="6.87" lengthAdjust="spacingAndGlyphs" fill="#111">5</text>
<line x1="45.20" y1="502.30" x2="45.20" y2="721.00" stroke="#111" stroke-width="1.3"/>
<line x1="41.90" y1="674.20" x2="318.60" y2="674.20" stroke="#111" stroke-width="1.3"/>
<text transform="translate(12.20,642.90) rotate(-90)" x="-1.27" y="0" font-size="15" textLength="112.58" lengthAdjust="spacingAndGlyphs" fill="#111">Fold Enrichment</text>
<rect x="52.30" y="639.30" width="10.40" height="34.90" fill="#000"/>
<rect x="63.30" y="582.10" width="8.50" height="92.10" fill="#e4e4e4" stroke="#111" stroke-width="1.2"/>
<line x1="67.55" y1="564.40" x2="67.55" y2="598.70" stroke="#111" stroke-width="1.35"/>
<line x1="65.45" y1="564.40" x2="69.65" y2="564.40" stroke="#111" stroke-width="1.4850000000000003"/>
<line x1="65.45" y1="598.70" x2="69.65" y2="598.70" stroke="#111" stroke-width="1.4850000000000003"/>
<rect x="86.48" y="666.10" width="10.40" height="8.10" fill="#000"/>
<rect x="97.48" y="646.40" width="8.50" height="27.80" fill="#e4e4e4" stroke="#111" stroke-width="1.2"/>
<line x1="91.68" y1="661.40" x2="91.68" y2="670.00" stroke="#000" stroke-width="1.35"/>
<line x1="89.58" y1="661.40" x2="93.78" y2="661.40" stroke="#000" stroke-width="1.4850000000000003"/>
<line x1="89.58" y1="670.00" x2="93.78" y2="670.00" stroke="#000" stroke-width="1.4850000000000003"/>
<line x1="101.73" y1="633.20" x2="101.73" y2="658.20" stroke="#111" stroke-width="1.35"/>
<line x1="99.63" y1="633.20" x2="103.83" y2="633.20" stroke="#111" stroke-width="1.4850000000000003"/>
<line x1="99.63" y1="658.20" x2="103.83" y2="658.20" stroke="#111" stroke-width="1.4850000000000003"/>
<rect x="120.66" y="639.30" width="10.40" height="34.90" fill="#000"/>
<rect x="131.66" y="576.00" width="8.50" height="98.20" fill="#e4e4e4" stroke="#111" stroke-width="1.2"/>
<line x1="135.91" y1="526.30" x2="135.91" y2="625.30" stroke="#111" stroke-width="1.35"/>
<line x1="133.81" y1="526.30" x2="138.01" y2="526.30" stroke="#111" stroke-width="1.4850000000000003"/>
<line x1="133.81" y1="625.30" x2="138.01" y2="625.30" stroke="#111" stroke-width="1.4850000000000003"/>
<rect x="154.84" y="660.00" width="10.40" height="14.20" fill="#000"/>
<rect x="165.84" y="637.00" width="8.50" height="37.20" fill="#e4e4e4" stroke="#111" stroke-width="1.2"/>
<line x1="160.04" y1="654.80" x2="160.04" y2="665.00" stroke="#000" stroke-width="1.35"/>
<line x1="157.94" y1="654.80" x2="162.14" y2="654.80" stroke="#000" stroke-width="1.4850000000000003"/>
<line x1="157.94" y1="665.00" x2="162.14" y2="665.00" stroke="#000" stroke-width="1.4850000000000003"/>
<line x1="170.09" y1="614.00" x2="170.09" y2="658.70" stroke="#111" stroke-width="1.35"/>
<line x1="167.99" y1="614.00" x2="172.19" y2="614.00" stroke="#111" stroke-width="1.4850000000000003"/>
<line x1="167.99" y1="658.70" x2="172.19" y2="658.70" stroke="#111" stroke-width="1.4850000000000003"/>
<rect x="189.02" y="639.30" width="10.40" height="34.90" fill="#000"/>
<rect x="200.02" y="590.50" width="8.50" height="83.70" fill="#e4e4e4" stroke="#111" stroke-width="1.2"/>
<line x1="204.27" y1="561.70" x2="204.27" y2="618.30" stroke="#111" stroke-width="1.35"/>
<line x1="202.17" y1="561.70" x2="206.37" y2="561.70" stroke="#111" stroke-width="1.4850000000000003"/>
<line x1="202.17" y1="618.30" x2="206.37" y2="618.30" stroke="#111" stroke-width="1.4850000000000003"/>
<rect x="223.20" y="609.60" width="10.40" height="64.60" fill="#000"/>
<rect x="234.20" y="570.20" width="8.50" height="104.00" fill="#e4e4e4" stroke="#111" stroke-width="1.2"/>
<line x1="228.40" y1="595.60" x2="228.40" y2="620.00" stroke="#000" stroke-width="1.35"/>
<line x1="226.30" y1="595.60" x2="230.50" y2="595.60" stroke="#000" stroke-width="1.4850000000000003"/>
<line x1="226.30" y1="620.00" x2="230.50" y2="620.00" stroke="#000" stroke-width="1.4850000000000003"/>
<line x1="238.45" y1="525.50" x2="238.45" y2="614.80" stroke="#111" stroke-width="1.35"/>
<line x1="236.35" y1="525.50" x2="240.55" y2="525.50" stroke="#111" stroke-width="1.4850000000000003"/>
<line x1="236.35" y1="614.80" x2="240.55" y2="614.80" stroke="#111" stroke-width="1.4850000000000003"/>
<rect x="257.38" y="639.30" width="10.40" height="34.90" fill="#000"/>
<rect x="268.38" y="622.50" width="8.50" height="51.70" fill="#e4e4e4" stroke="#111" stroke-width="1.2"/>
<line x1="272.63" y1="609.60" x2="272.63" y2="634.00" stroke="#111" stroke-width="1.35"/>
<line x1="270.53" y1="609.60" x2="274.73" y2="609.60" stroke="#111" stroke-width="1.4850000000000003"/>
<line x1="270.53" y1="634.00" x2="274.73" y2="634.00" stroke="#111" stroke-width="1.4850000000000003"/>
<rect x="291.56" y="656.90" width="10.40" height="17.30" fill="#000"/>
<rect x="302.56" y="644.40" width="8.50" height="29.80" fill="#e4e4e4" stroke="#111" stroke-width="1.2"/>
<line x1="296.76" y1="648.60" x2="296.76" y2="665.00" stroke="#000" stroke-width="1.35"/>
<line x1="294.66" y1="648.60" x2="298.86" y2="648.60" stroke="#000" stroke-width="1.4850000000000003"/>
<line x1="294.66" y1="665.00" x2="298.86" y2="665.00" stroke="#000" stroke-width="1.4850000000000003"/>
<line x1="306.81" y1="630.60" x2="306.81" y2="657.60" stroke="#111" stroke-width="1.35"/>
<line x1="304.71" y1="630.60" x2="308.91" y2="630.60" stroke="#111" stroke-width="1.4850000000000003"/>
<line x1="304.71" y1="657.60" x2="308.91" y2="657.60" stroke="#111" stroke-width="1.4850000000000003"/>
<path d="M54.00,608.00 V546.60 H66.40 V556.20" fill="none" stroke="#111" stroke-width="1.3"/>
<text x="61.20" y="544.20" font-size="14.5" text-anchor="middle" fill="#111" style="stroke-width:0.45px">*</text>
<line x1="79.38" y1="674.20" x2="79.38" y2="697.70" stroke="#111" stroke-width="1.4"/>
<line x1="113.56" y1="674.20" x2="113.56" y2="721.00" stroke="#111" stroke-width="1.4"/>
<line x1="147.74" y1="674.20" x2="147.74" y2="697.70" stroke="#111" stroke-width="1.4"/>
<line x1="181.92" y1="674.20" x2="181.92" y2="721.00" stroke="#111" stroke-width="1.4"/>
<line x1="216.10" y1="674.20" x2="216.10" y2="697.70" stroke="#111" stroke-width="1.4"/>
<line x1="250.28" y1="674.20" x2="250.28" y2="721.00" stroke="#111" stroke-width="1.4"/>
<line x1="284.46" y1="674.20" x2="284.46" y2="697.70" stroke="#111" stroke-width="1.4"/>
<line x1="318.64" y1="674.20" x2="318.64" y2="721.00" stroke="#111" stroke-width="1.4"/>
<text x="49.11" y="695.20" font-size="13.7" textLength="27.38" lengthAdjust="spacingAndGlyphs" fill="#111">21%</text>
<text x="81.96" y="695.20" font-size="13.7" textLength="30.19" lengthAdjust="spacingAndGlyphs" fill="#111">0.5%</text>
<text x="117.47" y="695.20" font-size="13.7" textLength="27.38" lengthAdjust="spacingAndGlyphs" fill="#111">21%</text>
<text x="150.32" y="695.20" font-size="13.7" textLength="30.19" lengthAdjust="spacingAndGlyphs" fill="#111">0.5%</text>
<text x="185.83" y="695.20" font-size="13.7" textLength="27.38" lengthAdjust="spacingAndGlyphs" fill="#111">21%</text>
<text x="218.68" y="695.20" font-size="13.7" textLength="30.19" lengthAdjust="spacingAndGlyphs" fill="#111">0.5%</text>
<text x="254.19" y="695.20" font-size="13.7" textLength="27.38" lengthAdjust="spacingAndGlyphs" fill="#111">21%</text>
<text x="287.04" y="695.20" font-size="13.7" textLength="30.19" lengthAdjust="spacingAndGlyphs" fill="#111">0.5%</text>
<text x="50.86" y="717.90" font-size="13.7" textLength="60.42" lengthAdjust="spacingAndGlyphs" fill="#111">PDGFB-1</text>
<text x="130.83" y="717.90" font-size="13.7" textLength="36.38" lengthAdjust="spacingAndGlyphs" fill="#111">LCN2</text>
<text x="202.95" y="717.90" font-size="13.7" textLength="28.04" lengthAdjust="spacingAndGlyphs" fill="#111">LOX</text>
<text x="258.78" y="717.90" font-size="13.7" textLength="54.48" lengthAdjust="spacingAndGlyphs" fill="#111">LOXL2-1</text>
<text x="321.81" y="694.10" font-size="13.7" textLength="26.28" lengthAdjust="spacingAndGlyphs" fill="#111">[O2]</text>
<rect x="261.20" y="515.50" width="10.80" height="10.50" fill="#000"/>
<rect x="262.40" y="547.20" width="8.60" height="9.10" fill="#e8e8e8" stroke="#111" stroke-width="1.4"/>
<text x="278.74" y="525.00" font-size="12" textLength="40.65" lengthAdjust="spacingAndGlyphs" fill="#111">shGFP</text>
<text x="280.65" y="555.70" font-size="12" textLength="32.68" lengthAdjust="spacingAndGlyphs" fill="#111">shK-2</text>
<text x="376.90" y="478.90" font-size="16" textLength="10.02" lengthAdjust="spacingAndGlyphs" fill="#111" font-weight="bold">e</text>
<text x="411.04" y="487.50" font-size="14.7" textLength="138.98" lengthAdjust="spacingAndGlyphs" fill="#111">Gene Desert Control</text>
<line x1="430.50" y1="673.20" x2="433.90" y2="673.20" stroke="#111" stroke-width="1.2"/>
<text x="416.30" y="677.80" font-size="12" textLength="7.21" lengthAdjust="spacingAndGlyphs" fill="#111">0</text>
<line x1="430.50" y1="644.62" x2="433.90" y2="644.62" stroke="#111" stroke-width="1.2"/>
<text x="398.32" y="649.22" font-size="12" textLength="25.22" lengthAdjust="spacingAndGlyphs" fill="#111">0.05</text>
<line x1="430.50" y1="616.03" x2="433.90" y2="616.03" stroke="#111" stroke-width="1.2"/>
<text x="405.62" y="620.63" font-size="12" textLength="18.02" lengthAdjust="spacingAndGlyphs" fill="#111">0.1</text>
<line x1="430.50" y1="587.45" x2="433.90" y2="587.45" stroke="#111" stroke-width="1.2"/>
<text x="398.32" y="592.05" font-size="12" textLength="25.22" lengthAdjust="spacingAndGlyphs" fill="#111">0.15</text>
<line x1="430.50" y1="558.86" x2="433.90" y2="558.86" stroke="#111" stroke-width="1.2"/>
<text x="405.64" y="563.46" font-size="12" textLength="18.02" lengthAdjust="spacingAndGlyphs" fill="#111">0.2</text>
<line x1="430.50" y1="530.28" x2="433.90" y2="530.28" stroke="#111" stroke-width="1.2"/>
<text x="398.32" y="534.88" font-size="12" textLength="25.22" lengthAdjust="spacingAndGlyphs" fill="#111">0.25</text>
<line x1="430.50" y1="501.69" x2="433.90" y2="501.69" stroke="#111" stroke-width="1.2"/>
<text x="405.55" y="506.29" font-size="12" textLength="18.02" lengthAdjust="spacingAndGlyphs" fill="#111">0.3</text>
<line x1="433.90" y1="501.40" x2="433.90" y2="720.50" stroke="#111" stroke-width="1.3"/>
<line x1="430.50" y1="673.20" x2="585.70" y2="673.20" stroke="#111" stroke-width="1.3"/>
<text transform="translate(388.50,658.40) rotate(-90)" x="-1.26" y="0" font-size="15" textLength="137.67" lengthAdjust="spacingAndGlyphs" fill="#111">Relative Enrichment</text>
<rect x="441.40" y="572.20" width="11.45" height="101.00" fill="#000"/>
<rect x="453.45" y="553.70" width="9.25" height="119.50" fill="#e4e4e4" stroke="#111" stroke-width="1.2"/>
<line x1="447.12" y1="553.60" x2="447.12" y2="590.00" stroke="#000" stroke-width="1.35"/>
<line x1="445.02" y1="553.60" x2="449.23" y2="553.60" stroke="#000" stroke-width="1.4850000000000003"/>
<line x1="445.02" y1="590.00" x2="449.23" y2="590.00" stroke="#000" stroke-width="1.4850000000000003"/>
<line x1="458.07" y1="530.70" x2="458.07" y2="575.80" stroke="#111" stroke-width="1.35"/>
<line x1="455.97" y1="530.70" x2="460.17" y2="530.70" stroke="#111" stroke-width="1.4850000000000003"/>
<line x1="455.97" y1="575.80" x2="460.17" y2="575.80" stroke="#111" stroke-width="1.4850000000000003"/>
<rect x="479.35" y="606.20" width="11.45" height="67.00" fill="#000"/>
<rect x="491.40" y="584.60" width="9.25" height="88.60" fill="#e4e4e4" stroke="#111" stroke-width="1.2"/>
<line x1="485.07" y1="590.40" x2="485.07" y2="620.00" stroke="#000" stroke-width="1.35"/>
<line x1="482.97" y1="590.40" x2="487.17" y2="590.40" stroke="#000" stroke-width="1.4850000000000003"/>
<line x1="482.97" y1="620.00" x2="487.17" y2="620.00" stroke="#000" stroke-width="1.4850000000000003"/>
<line x1="496.02" y1="575.20" x2="496.02" y2="592.40" stroke="#111" stroke-width="1.35"/>
<line x1="493.92" y1="575.20" x2="498.12" y2="575.20" stroke="#111" stroke-width="1.4850000000000003"/>
<line x1="493.92" y1="592.40" x2="498.12" y2="592.40" stroke="#111" stroke-width="1.4850000000000003"/>
<rect x="517.30" y="672.20" width="11.45" height="1.00" fill="#000"/>
<rect x="529.35" y="673.10" width="9.25" height="0.10" fill="#e4e4e4" stroke="#111" stroke-width="1.2"/>
<rect x="555.25" y="672.50" width="11.45" height="0.70" fill="#000"/>
<rect x="567.30" y="673.20" width="9.25" height="0.00" fill="#e4e4e4" stroke="#111" stroke-width="1.2"/>
<line x1="471.85" y1="673.20" x2="471.85" y2="697.50" stroke="#111" stroke-width="1.4"/>
<line x1="509.80" y1="673.20" x2="509.80" y2="720.50" stroke="#111" stroke-width="1.4"/>
<line x1="547.75" y1="673.20" x2="547.75" y2="697.50" stroke="#111" stroke-width="1.4"/>
<line x1="585.70" y1="673.20" x2="585.70" y2="720.50" stroke="#111" stroke-width="1.4"/>
<text x="439.08" y="694.60" font-size="13.7" textLength="28.63" lengthAdjust="spacingAndGlyphs" fill="#111">21%</text>
<text x="475.41" y="694.60" font-size="13.7" textLength="31.53" lengthAdjust="spacingAndGlyphs" fill="#111">0.5%</text>
<text x="514.98" y="694.60" font-size="13.7" textLength="28.63" lengthAdjust="spacingAndGlyphs" fill="#111">21%</text>
<text x="551.31" y="694.60" font-size="13.7" textLength="31.53" lengthAdjust="spacingAndGlyphs" fill="#111">0.5%</text>
<text x="442.02" y="717.50" font-size="13.7" textLength="63.70" lengthAdjust="spacingAndGlyphs" fill="#111">H3K9me3</text>
<text x="537.50" y="717.50" font-size="13.7" textLength="22.76" lengthAdjust="spacingAndGlyphs" fill="#111">IgG</text>
<text x="586.42" y="694.20" font-size="13.7" textLength="28.66" lengthAdjust="spacingAndGlyphs" fill="#111">[O2]</text>
<rect x="529.70" y="517.10" width="11.00" height="10.60" fill="#000"/>
<rect x="530.40" y="549.00" width="9.60" height="9.20" fill="#e8e8e8" stroke="#111" stroke-width="1.4"/>
<text x="545.65" y="525.70" font-size="12" textLength="38.91" lengthAdjust="spacingAndGlyphs" fill="#111">shGFP</text>
<text x="546.74" y="556.90" font-size="12" textLength="33.61" lengthAdjust="spacingAndGlyphs" fill="#111">shK-2</text>
</svg>
</body></html>
